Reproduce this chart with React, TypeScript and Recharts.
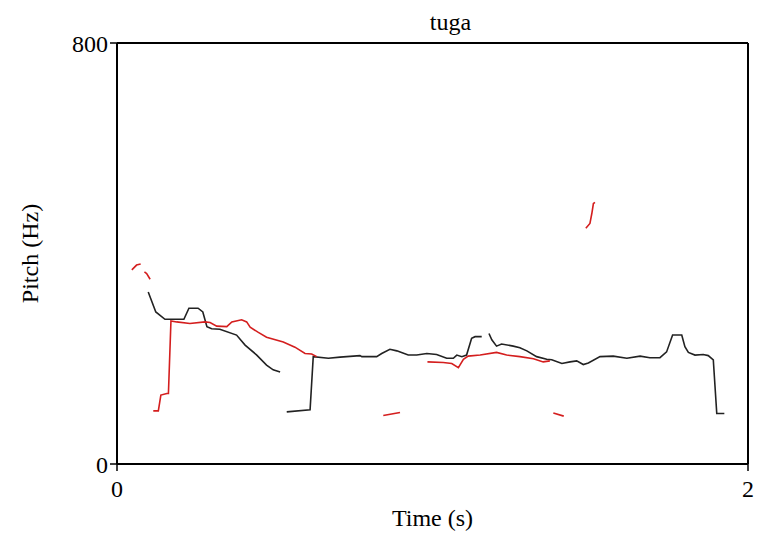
import { LineChart, XAxis, YAxis, Line, ReferenceLine, Label } from "recharts";

// pitch contours, [time (s), pitch (Hz)]
const black1: [number, number][] = [
  [0.099, 327], [0.123, 289], [0.152, 275], [0.212, 275], [0.228, 296],
  [0.257, 296], [0.272, 289], [0.285, 261], [0.3, 257], [0.326, 256],
  [0.379, 245], [0.406, 226], [0.443, 207], [0.474, 188], [0.495, 179],
  [0.517, 175],
];
const black2: [number, number][] = [
  [0.538, 99], [0.612, 103], [0.622, 204], [0.67, 201], [0.707, 203],
  [0.77, 206], [0.776, 204], [0.823, 204], [0.839, 210], [0.865, 218],
  [0.887, 215], [0.923, 207], [0.95, 207], [0.982, 210], [1.013, 208],
  [1.045, 201], [1.066, 201], [1.077, 207], [1.093, 204], [1.108, 207],
  [1.124, 239], [1.135, 242], [1.156, 242],
];
const black3: [number, number][] = [
  [1.179, 248], [1.188, 236], [1.203, 224], [1.219, 228], [1.256, 224],
  [1.277, 221], [1.299, 215], [1.33, 204], [1.362, 199], [1.378, 198],
  [1.41, 191], [1.436, 194], [1.457, 196], [1.478, 189], [1.494, 192],
  [1.531, 204], [1.573, 205], [1.616, 201], [1.658, 205], [1.689, 202],
  [1.721, 202], [1.742, 213], [1.761, 245], [1.79, 245], [1.8, 223],
  [1.811, 212], [1.832, 207], [1.858, 208], [1.874, 206], [1.89, 198],
  [1.901, 96], [1.925, 96],
];
const red1: [number, number][] = [[0.047, 369], [0.062, 378], [0.075, 380]];
const red2: [number, number][] = [[0.087, 365], [0.094, 362], [0.105, 351]];
const red3: [number, number][] = [
  [0.115, 101], [0.131, 101], [0.139, 131], [0.158, 134], [0.163, 134],
  [0.171, 272], [0.189, 270], [0.231, 267], [0.279, 270], [0.295, 269],
  [0.316, 262], [0.348, 261], [0.364, 270], [0.395, 274], [0.411, 270],
  [0.422, 260], [0.448, 250], [0.474, 241], [0.527, 232], [0.564, 222],
  [0.596, 210], [0.617, 209], [0.633, 204],
];
const red4: [number, number][] = [[0.844, 92], [0.897, 98]];
const red5: [number, number][] = [
  [0.984, 194], [1.034, 193], [1.061, 191], [1.082, 183], [1.098, 199],
  [1.113, 205], [1.151, 207], [1.203, 212], [1.235, 207], [1.277, 204],
  [1.32, 200], [1.351, 194], [1.372, 196],
];
const red6: [number, number][] = [[1.383, 97], [1.416, 91]];
const red7: [number, number][] = [
  [1.486, 448], [1.499, 457], [1.505, 476], [1.51, 495], [1.515, 497],
];

const xTicks = [0, 2];
const yTicks = [0, 800];

const blackSegments = [black1, black2, black3];
const redSegments = [red1, red2, red3, red4, red5, red6, red7];

const toRows = (seg: [number, number][]) => seg.map(([t, hz]) => ({ t, hz }));

const FONT = "Liberation Serif";
const tickStyle = { fontSize: 24, fill: "#000", fontFamily: FONT, style: { fontFamily: FONT } };

const TitleLabel = ({ viewBox }: any) => {
  const x = viewBox.x + viewBox.width / 2 + 18;
  return (
    <text x={x} y={viewBox.y - 13} textAnchor="middle" fontSize={24} style={{ fontFamily: FONT }} fill="#000">
      tuga
    </text>
  );
};

const YLabel = ({ viewBox }: any) => {
  const cx = 30;
  const cy = viewBox.y + viewBox.height / 2;
  return (
    <text
      x={cx}
      y={cy}
      transform={`rotate(-90 ${cx} ${cy})`}
      textAnchor="middle"
      dominantBaseline="central"
      fontSize={24}
      style={{ fontFamily: FONT }}
      fill="#000"
    >
      Pitch (Hz)
    </text>
  );
};

export default function App() {
  return (
    <div style={{ position: "absolute", left: 0, top: 0, background: "#fff", fontFamily: FONT }}>
      <LineChart width={757} height={534} margin={{ top: 43, right: 9, bottom: 0, left: 0 }} style={{ fontFamily: FONT }}>
        <XAxis
          dataKey="t"
          type="number"
          domain={[0, 2]}
          ticks={xTicks}
          height={70}
          tickSize={7}
          tickMargin={9}
          tick={tickStyle}
          axisLine={{ stroke: "#000", strokeWidth: 2 }}
          tickLine={{ stroke: "#000", strokeWidth: 1.5 }}
        >
          <Label value="Time (s)" position="insideBottom" offset={8} fontSize={24} fontFamily={FONT} fill="#000" />
        </XAxis>
        <YAxis
          type="number"
          domain={[0, 800]}
          ticks={yTicks}
          width={117}
          tickSize={7}
          tickMargin={2}
          tick={tickStyle}
          axisLine={{ stroke: "#000", strokeWidth: 2 }}
          tickLine={{ stroke: "#000", strokeWidth: 1.5 }}
          label={<YLabel />}
        />
        <ReferenceLine y={800} stroke="#000" strokeWidth={2} label={<TitleLabel />} />
        <ReferenceLine x={2} stroke="#000" strokeWidth={2} />
        {blackSegments.map((seg, i) => (
          <Line
            key={"b" + i}
            data={toRows(seg)}
            dataKey="hz"
            type="linear"
            stroke="#222"
            strokeWidth={1.6}
            dot={false}
            activeDot={false}
            isAnimationActive={false}
          />
        ))}
        {redSegments.map((seg, i) => (
          <Line
            key={"r" + i}
            data={toRows(seg)}
            dataKey="hz"
            type="linear"
            stroke="#d41e1e"
            strokeWidth={1.6}
            dot={false}
            activeDot={false}
            isAnimationActive={false}
          />
        ))}
      </LineChart>
    </div>
  );
}
